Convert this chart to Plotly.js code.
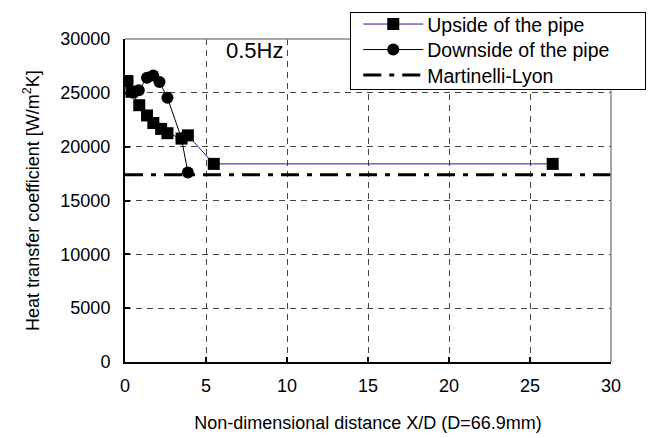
<!DOCTYPE html>
<html>
<head>
<meta charset="utf-8">
<script src="https://cdn.plot.ly/plotly-3.0.1.min.js"></script>
<style>
  html, body { margin: 0; padding: 0; background: #fff; }
  #chart { width: 648px; height: 438px; }
</style>
</head>
<body>
<div id="chart"></div>
<script>
// Upside of the pipe (square markers)
const upX = [0.15, 0.4, 0.88, 1.36, 1.75, 2.23, 2.62, 3.49, 3.88, 5.48, 26.4];
const upY = [26100, 25100, 23850, 22900, 22200, 21650, 21250, 20750, 21050, 18400, 18400];

// Downside of the pipe (circle markers)
const downX = [0.15, 0.5, 0.85, 1.36, 1.74, 2.13, 2.62, 3.49, 3.88];
const downY = [26100, 25000, 25250, 26400, 26600, 26000, 24550, 20750, 17600];

// Martinelli-Lyon correlation value
const mlX = [0, 30];
const mlY = [17400, 17400];

const xTicks = [0, 5, 10, 15, 20, 25, 30];
const yTicks = [0, 5000, 10000, 15000, 20000, 25000, 30000];

const font = 'Liberation Sans, Arial, sans-serif';

const traces = [
  {
    x: upX, y: upY, name: 'Upside of the pipe',
    mode: 'lines+markers', type: 'scatter',
    line: { color: '#1a1aa8', width: 1 },
    marker: { symbol: 'square', size: 12, color: '#000' }
  },
  {
    x: downX, y: downY, name: 'Downside of the pipe',
    mode: 'lines+markers', type: 'scatter',
    line: { color: '#000', width: 1 },
    marker: { symbol: 'circle', size: 12, color: '#000' }
  },
  {
    x: mlX, y: mlY, name: 'Martinelli-Lyon',
    mode: 'lines', type: 'scatter',
    line: { color: '#000', width: 3, dash: '18px,8px,5px,8px' }
  }
];

const layout = {
  width: 648, height: 438,
  margin: { l: 124.5, r: 37, t: 35, b: 76 },
  paper_bgcolor: '#fff', plot_bgcolor: '#fff',
  font: { family: font, size: 18, color: '#000' },
  showlegend: true,
  legend: {
    x: 0.4635, y: 1.085, xanchor: 'left', yanchor: 'top',
    bgcolor: '#fff', bordercolor: '#000', borderwidth: 1,
    font: { family: font, size: 19.5, color: '#000' },
    itemwidth: 66, tracegroupgap: 0
  },
  xaxis: {
    range: [0, 30], tickvals: xTicks, ticktext: xTicks.map(String),
    showline: true, linecolor: '#000', linewidth: 2,
    ticks: 'inside', ticklen: 5, tickwidth: 2, tickcolor: '#000',
    showgrid: true, gridcolor: '#444', gridwidth: 1, griddash: '6px,5px',
    zeroline: false, ticklabelstandoff: 6,
    tickfont: { family: font, size: 18 },
    title: { text: 'Non-dimensional distance X/D (D=66.9mm)', font: { family: font, size: 18 }, standoff: 22 }
  },
  yaxis: {
    range: [0, 30000], tickvals: yTicks, ticktext: yTicks.map(String),
    showline: true, linecolor: '#000', linewidth: 2,
    ticks: 'inside', ticklen: 5, tickwidth: 2, tickcolor: '#000',
    showgrid: true, gridcolor: '#444', gridwidth: 1, griddash: '6px,5px',
    zeroline: false, ticklabelstandoff: 9,
    tickfont: { family: font, size: 18 },
    title: { text: 'Heat transfer coefficient [W/m<sup>2</sup>K]', font: { family: font, size: 18 }, standoff: 16 }
  },
  shapes: [
    { type: 'line', xref: 'paper', yref: 'paper', x0: 0, x1: 1, y0: 1, y1: 1, line: { color: '#888', width: 1.5 } },
    { type: 'line', xref: 'paper', yref: 'paper', x0: 1, x1: 1, y0: 0, y1: 1, line: { color: '#888', width: 1.5 } }
  ],
  annotations: [
    { x: 8.0, y: 28950, xref: 'x', yref: 'y', text: '0.5Hz', showarrow: false,
      font: { family: font, size: 22, color: '#000' } }
  ]
};

// Legend box: long line samples with centred markers, tight rows, wide frame
function styleLegend() {
  const lg = document.querySelector('.legend');
  if (!lg) return;
  lg.querySelectorAll('.legendlines path').forEach(p => p.setAttribute('d', 'M12,0h60'));
  lg.querySelectorAll('.legendpoints path.scatterpts').forEach(p => p.setAttribute('transform', 'translate(42,0)'));
  lg.querySelectorAll('.traces').forEach((g, i) => {
    const m = /translate\(\s*([-\d.]+)/.exec(g.getAttribute('transform') || '');
    const tx = m ? m[1] : 0;
    g.setAttribute('transform', 'translate(' + tx + ',' + (12.5 + i * 25.5) + ')');
  });
  const bg = lg.querySelector('rect.bg');
  if (bg) { bg.setAttribute('width', 295); bg.setAttribute('height', 77); }
}

Plotly.newPlot('chart', traces, layout, { displayModeBar: false, staticPlot: true }).then(styleLegend);
</script>
</body>
</html>
